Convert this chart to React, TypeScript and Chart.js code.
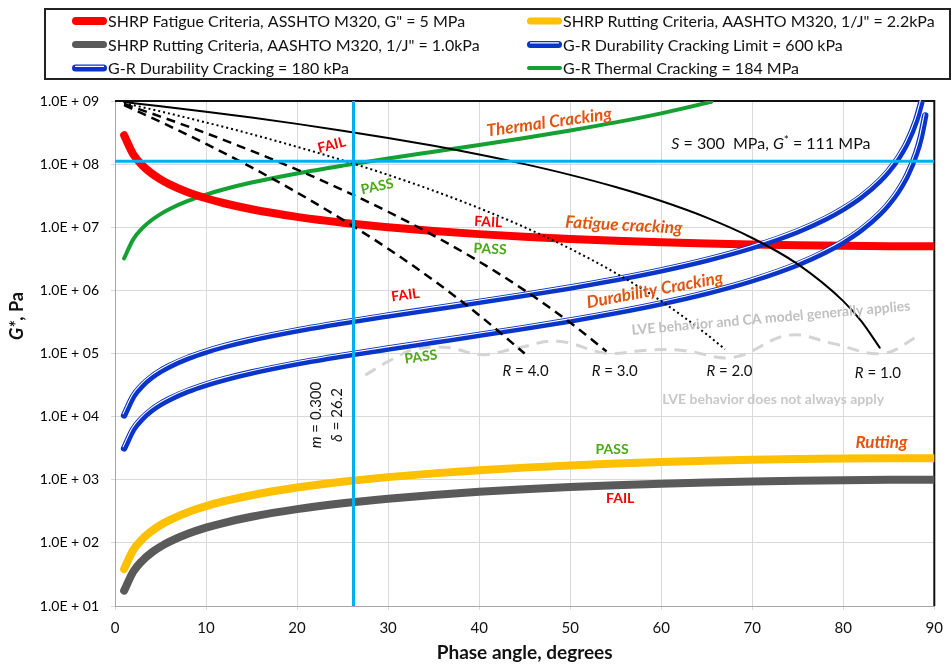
import React, { useEffect, useRef } from "react";
import { Chart, registerables } from "chart.js";
Chart.register(...registerables);

const FONT = "Lato, 'Open Sans', 'DejaVu Sans', sans-serif";

// ---------- data ----------
const DELTA = [1, 2, 3, 4, 5, 6, 8, 10, 12, 15, 20, 25, 30, 35, 40, 45, 50, 55, 60, 65, 70, 75, 80, 85, 90];
const FATIGUE_G = [2.865e8, 1.433e8, 9.55e7, 7.17e7, 5.74e7, 4.78e7, 3.59e7, 2.88e7, 2.4e7, 1.93e7, 1.46e7, 1.18e7, 1.0e7, 8.72e6, 7.78e6, 7.07e6, 6.53e6, 6.1e6, 5.77e6, 5.52e6, 5.32e6, 5.18e6, 5.08e6, 5.02e6, 5.0e6];
const RUTTING_22_G = [38.4, 76.8, 115, 153, 192, 230, 306, 382, 457, 569, 752, 930, 1100, 1262, 1414, 1556, 1685, 1802, 1905, 1994, 2067, 2125, 2167, 2192, 2200];
const RUTTING_10_G = [17.5, 34.9, 52.3, 69.8, 87.2, 104.5, 139, 174, 208, 259, 342, 423, 500, 574, 643, 707, 766, 819, 866, 906, 940, 966, 985, 996, 1000];

const GR600_X = [1, 2, 3, 4, 5, 6, 8, 10, 12, 15, 20, 25, 30, 35, 40, 45, 50, 55, 60, 65, 70, 75, 78, 80, 82, 84, 85, 86, 87, 88, 88.5, 88.6];
const GR600_G = [1.047e4, 2.097e4, 3.149e4, 4.206e4, 5.269e4, 6.341e4, 8.515e4, 1.074e5, 1.304e5, 1.664e5, 2.324e5, 3.087e5, 4.0e5, 5.129e5, 6.572e5, 8.485e5, 1.112e6, 1.494e6, 2.078e6, 3.045e6, 4.82e6, 8.652e6, 1.358e7, 1.96e7, 3.068e7, 5.461e7, 7.869e7, 1.23e8, 2.188e8, 4.923e8, 8.753e8, 1.0e9];
const GR180_X = [1, 2, 3, 4, 5, 6, 8, 10, 12, 15, 20, 25, 30, 35, 40, 45, 50, 55, 60, 65, 70, 75, 78, 80, 82, 84, 85, 86, 87, 88, 88.5, 89];
const GR180_G = [3.142e3, 6.29e3, 9.45e3, 1.262e4, 1.581e4, 1.902e4, 2.555e4, 3.223e4, 3.911e4, 4.993e4, 6.972e4, 9.261e4, 1.2e5, 1.539e5, 1.972e5, 2.546e5, 3.337e5, 4.482e5, 6.235e5, 9.134e5, 1.446e6, 2.596e6, 4.073e6, 5.879e6, 9.203e6, 1.638e7, 2.361e7, 3.69e7, 6.563e7, 1.477e8, 2.626e8, 5.909e8];

const THERMAL_X = [1, 2, 3, 4, 5, 6, 8, 10, 12, 15, 20, 25, 30, 35, 40, 45, 50, 55, 60, 65, 65.5];
const THERMAL_G = [3.212e6, 6.43e6, 9.66e6, 1.29e7, 1.616e7, 1.945e7, 2.611e7, 3.294e7, 3.998e7, 5.104e7, 7.127e7, 9.467e7, 1.227e8, 1.573e8, 2.015e8, 2.602e8, 3.411e8, 4.581e8, 6.374e8, 9.337e8, 9.74e8];

const R1_X = [1, 5, 10, 15, 20, 25, 30, 35, 40, 45, 50, 55, 60, 65, 70, 75, 80, 82, 84];
const R1_G = [9.636e8, 8.27e8, 6.76e8, 5.46e8, 4.34e8, 3.39e8, 2.6e8, 1.95e8, 1.42e8, 1.0e8, 6.76e7, 4.34e7, 2.6e7, 1.42e7, 6.76e6, 2.6e6, 6.76e5, 3.22e5, 1.24e5];
const R2_X = [1, 5, 10, 15, 20, 25, 30, 35, 40, 45, 50, 55, 60, 65, 67];
const R2_G = [9.28e8, 6.84e8, 4.57e8, 2.98e8, 1.88e8, 1.15e8, 6.76e7, 3.79e7, 2.01e7, 1.0e7, 4.57e6, 1.88e6, 6.76e5, 2.01e5, 1.17e5];
const R3_X = [1, 5, 10, 15, 20, 25, 30, 35, 40, 45, 50, 54];
const R3_G = [8.95e8, 5.66e8, 3.09e8, 1.62e8, 8.17e7, 3.9e7, 1.76e7, 7.39e6, 2.86e6, 1.0e6, 3.09e5, 1.08e5];
const R4_X = [1, 5, 10, 15, 20, 25, 30, 35, 40, 45];
const R4_G = [8.62e8, 4.68e8, 2.09e8, 8.87e7, 3.55e7, 1.32e7, 4.57e6, 1.44e6, 4.05e5, 1.0e5];

const LVE_X = [27.5, 30.3, 33, 36.6, 40.2, 44, 48.6, 54, 58.4, 62.4, 67.9, 74, 79, 84.3, 88.4];
const LVE_G = [4.55e4, 7.9e4, 1.17e5, 1.24e5, 9.6e4, 1.2e5, 1.57e5, 1.01e5, 1.13e5, 1.12e5, 8.7e4, 1.95e5, 1.42e5, 1.0e5, 1.95e5];

const REF_DELTA = 26.2;
const REF_G = 1.11e8;

const Y_TICKS = [1e1, 1e2, 1e3, 1e4, 1e5, 1e6, 1e7, 1e8, 1e9];
const Y_TICK_LABELS = ["1.0E + 01", "1.0E + 02", "1.0E + 03", "1.0E + 04", "1.0E + 05", "1.0E + 06", "1.0E + 07", "1.0E + 08", "1.0E + 09"];

const LEGEND_LABELS = [
  'SHRP Fatigue Criteria, ASSHTO M320, G" = 5 MPa',
  'SHRP Rutting Criteria, AASHTO M320, 1/J" = 1.0kPa',
  "G-R Durability Cracking = 180 kPa",
  'SHRP Rutting Criteria, AASHTO M320, 1/J" = 2.2kPa',
  "G-R Durability Cracking Limit = 600 kPa",
  "G-R Thermal Cracking = 184 MPa",
];

// ---------- styles ----------
const RED = "#FF0000";
const YELLOW = "#FFC000";
const GRAY = "#5A5A5A";
const BLUE = "#0A35C8";
const GREEN = "#14A032";
const LIGHTBLUE = "#00B0F0";
const ORANGE = "#E2550F";
const PASSGREEN = "#4DA818";
const LVEGRAY = "#C0C0C0";

const LEGEND_STYLE = [
  { color: RED, width: 8, double: false },
  { color: GRAY, width: 7, double: false },
  { color: BLUE, width: 7, double: true },
  { color: YELLOW, width: 7, double: false },
  { color: BLUE, width: 7, double: true },
  { color: GREEN, width: 4, double: false },
];

const pts = (xs: number[], ys: number[]) => xs.map((x, i) => ({ x, y: ys[i] }));
const F = (style: string, size: number) => `${style} ${size}px ${FONT}`;

type Run = { text: string; font: string; color: string; dy?: number };
type Ann = { runs: Run[]; x: number; y: number; rot: number };

const simple = (text: string, x: number, y: number, rot: number, font: string, color: string): Ann => ({
  runs: [{ text, font, color }], x, y, rot,
});

const FAIL_FONT = F("bold", 14);
const CRACK_FONT = F("italic bold", 17);
const ANNOTATIONS: Ann[] = [
  simple("FAIL", 23.8, 2.0e8, -14, FAIL_FONT, RED),
  simple("PASS", 28.8, 4.4e7, -12, FAIL_FONT, PASSGREEN),
  simple("Thermal Cracking", 47.7, 4.6e8, -8, CRACK_FONT, ORANGE),
  {
    runs: [
      { text: "S", font: F("italic", 16), color: "#111" },
      { text: " = 300  MPa, ", font: F("normal", 16), color: "#111" },
      { text: "G", font: F("italic", 16), color: "#111" },
      { text: "*", font: F("normal", 12), color: "#111", dy: -4 },
      { text: " = 111 MPa", font: F("normal", 16), color: "#111" },
    ],
    x: 72.05, y: 2.08e8, rot: 0,
  },
  simple("FAIL", 41.0, 1.21e7, 3, FAIL_FONT, RED),
  simple("PASS", 41.2, 4.5e6, 3, FAIL_FONT, PASSGREEN),
  simple("Fatigue cracking", 55.9, 1.08e7, 3, CRACK_FONT, ORANGE),
  simple("FAIL", 31.9, 8.4e5, -8, FAIL_FONT, RED),
  simple("Durability Cracking", 59.3, 1.01e6, -10.5, CRACK_FONT, ORANGE),
  simple("LVE behavior and CA model generally applies", 72.05, 3.64e5, -5, F("bold", 14), LVEGRAY),
  simple("PASS", 33.6, 8.8e4, -8, FAIL_FONT, PASSGREEN),
  ...[["4.0", 45.1, 5.25e4], ["3.0", 54.9, 5.25e4], ["2.0", 67.5, 5.25e4], ["1.0", 83.8, 4.9e4]].map(
    ([v, x, y]) => ({
      runs: [
        { text: "R", font: F("italic", 15), color: "#111" },
        { text: " = " + v, font: F("normal", 15), color: "#111" },
      ],
      x: x as number, y: y as number, rot: 0,
    })
  ),
  simple("LVE behavior does not always apply", 72.3, 1.89e4, 0, F("bold", 14), "#C8C8C8"),
  {
    runs: [
      { text: "m", font: F("italic", 15), color: "#111" },
      { text: " = 0.300", font: F("normal", 15), color: "#111" },
    ],
    x: 22.05, y: 1.06e4, rot: -90,
  },
  {
    runs: [
      { text: "δ", font: F("italic", 15), color: "#111" },
      { text: " = 26.2", font: F("normal", 15), color: "#111" },
    ],
    x: 24.35, y: 1.06e4, rot: -90,
  },
  simple("PASS", 54.6, 3.05e3, 0, FAIL_FONT, PASSGREEN),
  simple("Rutting", 84.2, 3.94e3, 0, CRACK_FONT, ORANGE),
  simple("FAIL", 55.5, 511, 0, FAIL_FONT, RED),
];

function drawRuns(ctx: CanvasRenderingContext2D, runs: Run[], cx: number, cy: number, rot: number) {
  ctx.save();
  ctx.translate(cx, cy);
  ctx.rotate((rot * Math.PI) / 180);
  ctx.textBaseline = "middle";
  ctx.textAlign = "left";
  let total = 0;
  const widths = runs.map((r) => {
    ctx.font = r.font;
    const w = ctx.measureText(r.text).width;
    total += w;
    return w;
  });
  let x = -total / 2;
  runs.forEach((r, i) => {
    ctx.font = r.font;
    ctx.fillStyle = r.color;
    ctx.fillText(r.text, x, r.dy || 0);
    x += widths[i];
  });
  ctx.restore();
}

const decorPlugin = {
  id: "decor",
  beforeDatasetsDraw(chart: any) {
    const { ctx, chartArea: a } = chart;
    ctx.save();
    ctx.strokeStyle = "#111";
    ctx.lineWidth = 2;
    ctx.beginPath();
    ctx.moveTo(a.left, a.top);
    ctx.lineTo(a.right, a.top);
    ctx.lineTo(a.right, a.bottom);
    ctx.stroke();
    ctx.restore();
  },
  // shift the thin white core of the double blue lines toward the upper-left edge
  beforeDatasetDraw(chart: any, args: any) {
    const ds = chart.data.datasets[args.index];
    if (ds.whiteCore) {
      chart.ctx.save();
      chart.ctx.translate(-1, -1.6);
    }
  },
  afterDatasetDraw(chart: any, args: any) {
    const ds = chart.data.datasets[args.index];
    if (ds.whiteCore) chart.ctx.restore();
  },
  afterDatasetsDraw(chart: any) {
    const { ctx, scales } = chart;
    ANNOTATIONS.forEach((an) => {
      drawRuns(ctx, an.runs, scales.x.getPixelForValue(an.x), scales.y.getPixelForValue(an.y), an.rot);
    });
  },
  afterDraw(chart: any) {
    const { ctx, chartArea: a } = chart;
    // legend box
    ctx.save();
    ctx.strokeStyle = "#222";
    ctx.lineWidth = 2;
    ctx.strokeRect(45, 9, 905, 70);
    const rows = [21, 44.5, 68];
    const cols = [72, 527];
    LEGEND_LABELS.forEach((label, i) => {
      const col = Math.floor(i / 3);
      const row = i % 3;
      const st = LEGEND_STYLE[i];
      const x0 = cols[col];
      const y = rows[row];
      ctx.lineCap = "round";
      ctx.strokeStyle = st.color;
      ctx.lineWidth = st.width;
      ctx.beginPath();
      ctx.moveTo(x0 + st.width / 2, y);
      ctx.lineTo(x0 + 35 - st.width / 2, y);
      ctx.stroke();
      if (st.double) {
        ctx.strokeStyle = "#fff";
        ctx.lineWidth = 1.1;
        ctx.beginPath();
        ctx.moveTo(x0 + st.width / 2, y - 1.6);
        ctx.lineTo(x0 + 35 - st.width / 2, y - 1.6);
        ctx.stroke();
      }
      ctx.fillStyle = "#111";
      ctx.font = F("normal", 16);
      ctx.textBaseline = "middle";
      ctx.textAlign = "left";
      ctx.fillText(label, x0 + 36, y + 1);
    });
    ctx.restore();
    // axis titles
    drawRuns(ctx, [{ text: "Phase angle, degrees", font: F("bold", 19), color: "#111" }], (a.left + a.right) / 2, 653, 0);
    drawRuns(
      ctx,
      [
        { text: "G*", font: F("italic bold", 18), color: "#111" },
        { text: ", Pa", font: F("bold", 18), color: "#111" },
      ],
      17,
      316,
      -90
    );
  },
};

const line = (data: any[], color: string, width: number, extra: any = {}) => ({
  data,
  borderColor: color,
  backgroundColor: color,
  borderWidth: width,
  showLine: true,
  pointRadius: 0,
  fill: false,
  cubicInterpolationMode: "monotone",
  borderCapStyle: "round",
  ...extra,
});

export default function App() {
  const ref = useRef<HTMLCanvasElement>(null);
  useEffect(() => {
    document.body.style.margin = "0";
    const datasets = [
      line(pts([0, 90], [REF_G, REF_G]), LIGHTBLUE, 3, { borderCapStyle: "butt", cubicInterpolationMode: "default", tension: 0 }),
      line(pts([REF_DELTA, REF_DELTA], [10, 1e9]), LIGHTBLUE, 3, { borderCapStyle: "butt", cubicInterpolationMode: "default", tension: 0 }),
      line(pts(R1_X, R1_G), "#000", 2),
      line(pts(R2_X, R2_G), "#000", 2, { borderDash: [2, 3], borderCapStyle: "butt" }),
      line(pts(R3_X, R3_G), "#000", 2.5, { borderDash: [9, 6], borderCapStyle: "butt" }),
      line(pts(R4_X, R4_G), "#000", 2.5, { borderDash: [9, 6], borderCapStyle: "butt" }),
      line(pts(GR600_X, GR600_G), "#fff", 1.1, { whiteCore: true }),
      line(pts(GR600_X, GR600_G), BLUE, 6.5),
      line(pts(GR180_X, GR180_G), "#fff", 1.1, { whiteCore: true }),
      line(pts(GR180_X, GR180_G), BLUE, 6.5),
      line(pts(DELTA, FATIGUE_G), RED, 8),
      line(pts(THERMAL_X, THERMAL_G), GREEN, 4),
      line(pts(DELTA, RUTTING_22_G), YELLOW, 8),
      line(pts(DELTA, RUTTING_10_G), GRAY, 8),
      line(pts(LVE_X, LVE_G), "#D4D4D4", 3, { borderDash: [12, 8], borderCapStyle: "butt", cubicInterpolationMode: "default", tension: 0.4 }),
    ];
    const chart = new Chart(ref.current as HTMLCanvasElement, {
      type: "scatter",
      data: { datasets } as any,
      options: {
        animation: false,
        responsive: false,
        devicePixelRatio: 1,
        layout: { padding: { left: 0, right: 13, top: 101, bottom: 0 } },
        plugins: { legend: { display: false }, tooltip: { enabled: false } },
        elements: { point: { radius: 0 } },
        scales: {
          x: {
            type: "linear",
            min: 0,
            max: 90,
            ticks: { stepSize: 10, color: "#111", font: { size: 15, family: FONT }, padding: 9, maxRotation: 0 },
            grid: { color: "#D9D9D9", tickLength: 4 },
            border: { color: "#A6A6A6", width: 1 },
            afterFit: (s: any) => {
              s.height = 59;
            },
          },
          y: {
            type: "logarithmic",
            min: 10,
            max: 1e9,
            afterBuildTicks: (s: any) => {
              s.ticks = Y_TICKS.map((v) => ({ value: v }));
            },
            ticks: {
              color: "#000",
              font: { size: 14, family: FONT },
              padding: 12,
              callback: (v: any) => {
                const i = Y_TICKS.findIndex((t) => Math.abs(Math.log10(t) - Math.log10(Number(v))) < 1e-6);
                return i >= 0 ? Y_TICK_LABELS[i] : "";
              },
            },
            grid: { color: "#D9D9D9", tickLength: 4 },
            border: { color: "#A6A6A6", width: 1 },
            afterFit: (s: any) => {
              s.width = 115;
            },
          },
        },
      } as any,
      plugins: [decorPlugin],
    });
    let alive = true;
    (document as any).fonts?.ready?.then(() => {
      if (alive) chart.update();
    });
    return () => {
      alive = false;
      chart.destroy();
    };
  }, []);
  return (
    <div style={{ width: 952, height: 665 }}>
      <canvas ref={ref} width={952} height={665} style={{ display: "block" }} />
    </div>
  );
}
